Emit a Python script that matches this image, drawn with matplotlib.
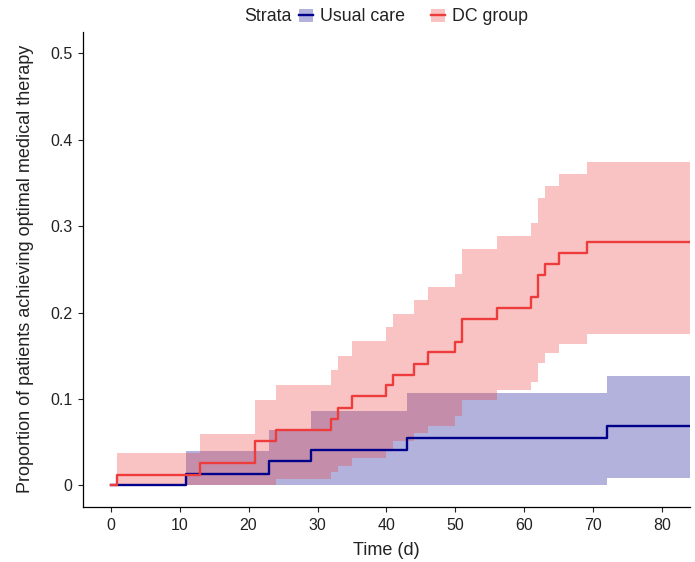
import matplotlib
matplotlib.use('Agg')
import matplotlib.pyplot as plt
from matplotlib.patches import Patch
from matplotlib.lines import Line2D
from matplotlib.legend_handler import HandlerTuple

plt.rcParams['font.family'] = ['Liberation Sans', 'DejaVu Sans']

# DC group: cumulative proportion with 95% CI (step values start at each time)
dc_time = [0, 1, 13, 21, 24, 32, 33, 35, 40, 41, 44, 46, 50, 51, 56, 61, 62, 63, 65, 69, 84]
dc_est = [0, 0.0124, 0.0259, 0.0517, 0.0637, 0.0768, 0.0896, 0.103, 0.1157, 0.128, 0.141,
          0.154, 0.166, 0.192, 0.205, 0.218, 0.2435, 0.256, 0.2685, 0.2817, 0.2817]
dc_upper = [0, 0.0375, 0.0598, 0.0984, 0.1165, 0.134, 0.150, 0.1667, 0.183, 0.1987, 0.214,
            0.230, 0.245, 0.274, 0.289, 0.3037, 0.3325, 0.347, 0.3604, 0.3747, 0.3747]
dc_lower = [0, 0, 0, 0, 0.0074, 0.015, 0.0228, 0.032, 0.0405, 0.051, 0.0606,
            0.069, 0.080, 0.099, 0.110, 0.120, 0.1417, 0.1528, 0.1637, 0.175, 0.175]

# Usual care
uc_time = [0, 11, 23, 29, 43, 72, 84]
uc_est = [0, 0.0135, 0.0278, 0.0413, 0.0552, 0.069, 0.069]
uc_upper = [0, 0.040, 0.0645, 0.0865, 0.107, 0.126, 0.126]
uc_lower = [0, 0, 0.001, 0.001, 0.001, 0.0085, 0.0085]

x_ticks = [0, 10, 20, 30, 40, 50, 60, 70, 80]
y_ticks = [0, 0.1, 0.2, 0.3, 0.4, 0.5]
y_labels = ['0', '0.1', '0.2', '0.3', '0.4', '0.5']

blue = '#00008B'
red = '#EE3B3B'
txt = '#222222'

fig = plt.figure(figsize=(6.95, 5.62), dpi=100)
ax = fig.add_axes([0.1194, 0.0979, 0.8734, 0.8457])

ax.fill_between(uc_time, uc_lower, uc_upper, step='post', color=blue, alpha=0.3, lw=0)
ax.fill_between(dc_time, dc_lower, dc_upper, step='post', color=red, alpha=0.3, lw=0)
ax.step(uc_time, uc_est, where='post', color=blue, lw=1.7)
ax.step(dc_time, dc_est, where='post', color=red, lw=1.7)

ax.set_xlim(-4, 84)
ax.set_ylim(-0.025, 0.525)
ax.set_xticks(x_ticks)
ax.set_yticks(y_ticks)
ax.set_yticklabels(y_labels)
ax.tick_params(labelsize=11.5, length=3.6, width=0.8, pad=4, colors=txt, labelcolor=txt)
for s in ['top', 'right']:
    ax.spines[s].set_visible(False)
for s in ['left', 'bottom']:
    ax.spines[s].set_linewidth(0.9)

ax.set_xlabel('Time (d)', fontsize=13, color=txt, va='center')
ax.xaxis.set_label_coords(0.5, -0.0926)
ax.set_ylabel('Proportion of patients achieving optimal medical therapy', fontsize=13,
              color=txt, va='center')
ax.yaxis.set_label_coords(-0.0955, 0.5)

# legend at the top, title inline
h_uc = (Patch(facecolor=blue, alpha=0.3, lw=0), Line2D([], [], color=blue, lw=1.7))
h_dc = (Patch(facecolor=red, alpha=0.3, lw=0), Line2D([], [], color=red, lw=1.7))
fig.text(0.351, 0.970, 'Strata', fontsize=12.8, ha='left', va='center', color=txt)
fig.legend([h_uc, h_dc], ['Usual care', 'DC group'], ncol=2, frameon=False,
           loc='center left', bbox_to_anchor=(0.430, 0.970), fontsize=12.8,
           handler_map={tuple: HandlerTuple(ndivide=1, pad=0)},
           handlelength=0.79, handleheight=0.75, handletextpad=0.39, columnspacing=1.46,
           borderpad=0, borderaxespad=0, labelcolor=txt)

fig.savefig('out.png', dpi=100)
